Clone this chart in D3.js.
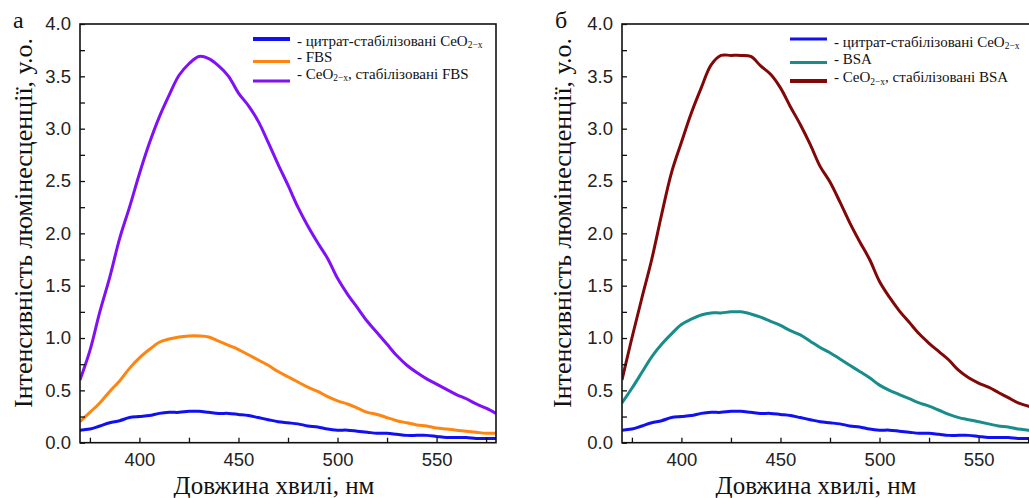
<!DOCTYPE html>
<html>
<head>
<meta charset="utf-8">
<script src="https://cdn.jsdelivr.net/npm/d3@7"></script>
<style>
  html, body { margin: 0; padding: 0; background: #fff; overflow: hidden; }
  svg { display: block; }
  .tick text { font-family: "Liberation Sans", Arial, sans-serif; font-size: 18.5px; fill: #222; }
  .serif { font-family: "Liberation Serif", "Times New Roman", serif; fill: #111; }
</style>
</head>
<body>
<svg id="chart" width="1029" height="498"></svg>
<script>
// Wavelength grid, nm (5 nm step)
const wavelengths = [370,375,380,385,390,395,400,405,410,415,420,425,430,435,440,445,450,455,460,465,470,475,480,485,490,495,500,505,510,515,520,525,530,535,540,545,550,555,560,565,570,575,580];

// Luminescence intensity, a.u.
const citrateCeO2 = [0.12,0.13,0.16,0.19,0.21,0.24,0.25,0.26,0.28,0.29,0.29,0.30,0.30,0.29,0.28,0.28,0.27,0.26,0.24,0.22,0.20,0.19,0.18,0.16,0.15,0.13,0.12,0.12,0.11,0.10,0.09,0.09,0.08,0.07,0.07,0.07,0.06,0.05,0.05,0.05,0.04,0.04,0.04];
const fbs = [0.20,0.29,0.38,0.49,0.59,0.71,0.81,0.89,0.96,0.99,1.01,1.02,1.02,1.01,0.97,0.93,0.89,0.84,0.79,0.74,0.68,0.63,0.58,0.53,0.49,0.44,0.40,0.37,0.33,0.29,0.27,0.24,0.21,0.19,0.17,0.16,0.14,0.13,0.12,0.11,0.10,0.09,0.09];
const ceo2Fbs = [0.60,0.88,1.25,1.58,1.95,2.25,2.57,2.86,3.11,3.32,3.51,3.62,3.69,3.67,3.60,3.50,3.34,3.22,3.07,2.87,2.66,2.46,2.25,2.07,1.91,1.76,1.57,1.42,1.29,1.16,1.05,0.94,0.83,0.74,0.67,0.61,0.56,0.51,0.46,0.42,0.37,0.33,0.28];
const bsa = [0.38,0.52,0.67,0.82,0.94,1.04,1.13,1.18,1.22,1.24,1.24,1.25,1.25,1.23,1.20,1.16,1.12,1.07,1.03,0.97,0.91,0.86,0.80,0.74,0.68,0.62,0.55,0.50,0.46,0.42,0.38,0.35,0.31,0.27,0.24,0.22,0.20,0.18,0.16,0.15,0.13,0.12,0.11];
const ceo2Bsa = [0.60,1.00,1.38,1.75,2.18,2.58,2.87,3.15,3.39,3.61,3.70,3.70,3.70,3.69,3.60,3.52,3.39,3.21,3.04,2.85,2.64,2.49,2.30,2.10,1.92,1.75,1.54,1.39,1.26,1.15,1.04,0.95,0.87,0.79,0.69,0.62,0.57,0.53,0.48,0.43,0.38,0.35,0.32];

// Axis ticks
const xMajorTicks = [400, 450, 500, 550];
const xMinorTicks = [375, 425, 475, 525, 575];
const yTicks = [0, 0.25, 0.5, 0.75, 1, 1.25, 1.5, 1.75, 2, 2.25, 2.5, 2.75, 3, 3.25, 3.5, 3.75, 4];

// Texts
const xTitle = "Довжина хвилі, нм";
const yTitle = "Інтенсивність люмінесценції, у.о.";

const panels = [
  {
    letter: "а", left: 80,
    series: [
      { values: citrateCeO2, color: "#1010f2", pre: "- цитрат-стабілізовані CeO", sub: "2−x", post: "", sw: 4 },
      { values: fbs,         color: "#ff8410", pre: "- FBS", sub: "", post: "", sw: 3 },
      { values: ceo2Fbs,     color: "#8010f5", pre: "- CeO", sub: "2−x", post: ", стабілізовані FBS", sw: 3 }
    ],
    legend: { x: 173, swY: [15, 37.5, 57], txtY: [21.5, 37.5, 54.5] }
  },
  {
    letter: "б", left: 622,
    series: [
      { values: citrateCeO2, color: "#1010f2", pre: "- цитрат-стабілізовані CeO", sub: "2−x", post: "", sw: 3 },
      { values: bsa,         color: "#198c8c", pre: "- BSA", sub: "", post: "", sw: 3 },
      { values: ceo2Bsa,     color: "#820808", pre: "- CeO", sub: "2−x", post: ", стабілізовані BSA", sw: 4 }
    ],
    legend: { x: 168, swY: [15, 38.5, 57], txtY: [22.5, 40, 58] }
  }
];

const plotTop = 24, plotW = 416, plotH = 418.7;
const svg = d3.select("#chart");
svg.append("rect").attr("width", 1029).attr("height", 498).attr("fill", "#fff");

const x = d3.scaleLinear().domain([370, 580]).range([0, plotW]);
const y = d3.scaleLinear().domain([0, 4]).range([plotH, 0]);
const line = d3.line().x((d, i) => x(wavelengths[i])).y(d => y(d)).curve(d3.curveCatmullRom.alpha(0.5));

panels.forEach((p, pi) => {
  const g = svg.append("g").attr("transform", `translate(${p.left},${plotTop})`);

  const clipId = "clip" + pi;
  g.append("clipPath").attr("id", clipId)
    .append("rect").attr("width", plotW).attr("height", plotH);

  // Curves
  const curves = g.append("g").attr("clip-path", `url(#${clipId})`);
  p.series.forEach(s => {
    curves.append("path").datum(s.values)
      .attr("d", line)
      .attr("fill", "none")
      .attr("stroke", s.color)
      .attr("stroke-width", 3)
      .attr("stroke-linejoin", "round");
  });

  // Bottom axis: labelled majors and inward minor ticks
  const xAxis = g.append("g").attr("transform", `translate(0,${plotH})`)
    .call(d3.axisBottom(x).tickValues(xMajorTicks.concat(xMinorTicks))
      .tickSize(-5).tickPadding(10)
      .tickFormat(d => xMajorTicks.includes(d) ? d3.format("d")(d) : ""));
  xAxis.select(".domain").remove();
  xAxis.selectAll(".tick line").attr("stroke", "#111").attr("stroke-width", 1.3);

  // Left axis
  const yAxis = g.append("g")
    .call(d3.axisLeft(y).tickValues(yTicks)
      .tickSize(-5).tickPadding(9)
      .tickFormat(d => (Math.round(d * 100) % 50 === 0) ? d3.format(".1f")(d) : ""));
  yAxis.select(".domain").remove();
  yAxis.selectAll(".tick line").attr("stroke", "#111").attr("stroke-width", 1.3);

  // Frame
  g.append("rect").attr("width", plotW).attr("height", plotH)
    .attr("fill", "none").attr("stroke", "#111").attr("stroke-width", 1.6);

  // Legend
  const lg = g.append("g").attr("transform", `translate(${p.legend.x},0)`);
  p.series.forEach((s, i) => {
    lg.append("line")
      .attr("x1", 0).attr("x2", 37)
      .attr("y1", p.legend.swY[i]).attr("y2", p.legend.swY[i])
      .attr("stroke", s.color).attr("stroke-width", s.sw);
    const t = lg.append("text").attr("class", "serif")
      .attr("x", 44).attr("y", p.legend.txtY[i])
      .style("font-size", "15px");
    t.append("tspan").text(s.pre);
    if (s.sub) {
      t.append("tspan").attr("dy", 2.5).style("font-size", "9.5px").text(s.sub);
      if (s.post) t.append("tspan").attr("dy", -2.5).text(s.post);
    } else if (s.post) {
      t.append("tspan").text(s.post);
    }
  });

  // Axis titles
  g.append("text").attr("class", "serif")
    .attr("x", 194).attr("y", plotH + 51.3)
    .attr("text-anchor", "middle").style("font-size", "25px")
    .text(xTitle);
  g.append("text").attr("class", "serif")
    .attr("transform", `translate(${pi === 0 ? -48 : -51},${199}) rotate(-90)`)
    .attr("text-anchor", "middle").style("font-size", "26px")
    .text(yTitle);

  // Panel letter
  g.append("text").attr("class", "serif")
    .attr("x", -67).attr("y", 4)
    .style("font-size", "24px")
    .text(p.letter);
});
</script>
</body>
</html>
